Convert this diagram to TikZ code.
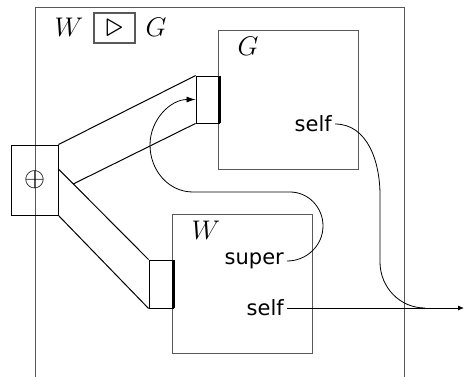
\documentclass[tikz,border=0pt]{standalone}
\usepackage{graphicx}
\usepackage{fontspec}
\setsansfont{DejaVu Sans}
\usetikzlibrary{arrows.meta,positioning,calc}
\newcommand{\mlbl}[1]{\scalebox{1.3}{$#1$}}

\begin{document}
\begin{tikzpicture}[
    x=1pt, y=-1pt,
    frame/.style={rectangle, draw=black!65, line width=0.9pt},
    block/.style={frame, minimum width=140pt, minimum height=139pt},
    port/.style={rectangle, draw, line width=0.9pt, minimum width=23pt, minimum height=47pt},
    thickedge/.style={line width=2.2pt},
    lbl/.style={font=\fontsize{20}{24}\selectfont, inner sep=0pt},
    wirelbl/.style={font=\sffamily\fontsize{21}{25}\selectfont, inner ysep=0pt, inner xsep=3pt, anchor=east},
    strip/.style={line width=1pt},
    wire/.style={line width=0.8pt},
    arrow/.style={wire, -{Latex[length=9pt,width=6pt]}},
    outarrow/.style={wire, -{Latex[length=6pt,width=5pt]}}
]
\useasboundingbox (0,0) rectangle (464,376);
\clip (0,0) rectangle (464,376);

% outer frame and its title
\node[frame, minimum width=369pt, minimum height=383pt, anchor=north west] (outer) at (35,7) {};
\node[lbl] (tleft) at (69,27) {\mlbl{W}};
\node[frame, lbl, line width=1.1pt, minimum width=41pt, minimum height=30pt] (op) at (114.5,28) {\scalebox{1.7}{$\triangleright$}};
\node[lbl] (tright) at (156,27) {\mlbl{G}};

% inner blocks
\node[block] (gblk) at (288,99.5) {};
\node[lbl] (glbl) at (248,46) {\mlbl{G}};
\node[wirelbl] (gself) at (335,124) {self};

\node[block] (wblk) at (242,283.5) {};
\node[lbl] (wlbl) at (206,230) {\mlbl{W}};
\node[wirelbl] (wsuper) at (287,261) {super};
\node[wirelbl] (wself) at (287,308) {self};

% ports
\node[port] (tport) at (207.5,99.5) {};
\node[port, minimum width=24pt, minimum height=48pt] (lport) at (161,284) {};
\node[port, minimum width=47pt, minimum height=70pt] (plus) at (34.5,180) {};
\node[lbl] (plussym) at (plus.center) {\mlbl{\oplus}};
\draw[thickedge] (tport.north east) -- (tport.south east);
\draw[thickedge] (lport.north east) -- (lport.south east);

% strips
\coordinate (lsplit) at ([yshift=11pt]plus.east);
\coordinate (tsplit) at ($(lsplit)!0.165!(lport.north west)$);
\draw[strip] (plus.north east) -- (tport.north west);
\draw[strip] (tport.south west) -- (tsplit);
\draw[strip] (lsplit) -- (lport.north west);
\draw[strip] (plus.south east) -- (lport.south west);

% wires
\coordinate (out) at (464,308);
\coordinate (merge) at (425,308);
\draw[wire] (gself.east) to[out=0, in=90] (380,195) -- (380,262)
    to[out=-90, in=180] (merge);
\draw[outarrow] (wself.east) -- (out);
\draw[arrow] (wsuper.east) to[out=0, in=-90] (323,226) to[out=90, in=0] (290,192)
    -- (193,192) to[out=180, in=-90] (150,145) to[out=90, in=180] (tport.west);
\end{tikzpicture}
\end{document}
